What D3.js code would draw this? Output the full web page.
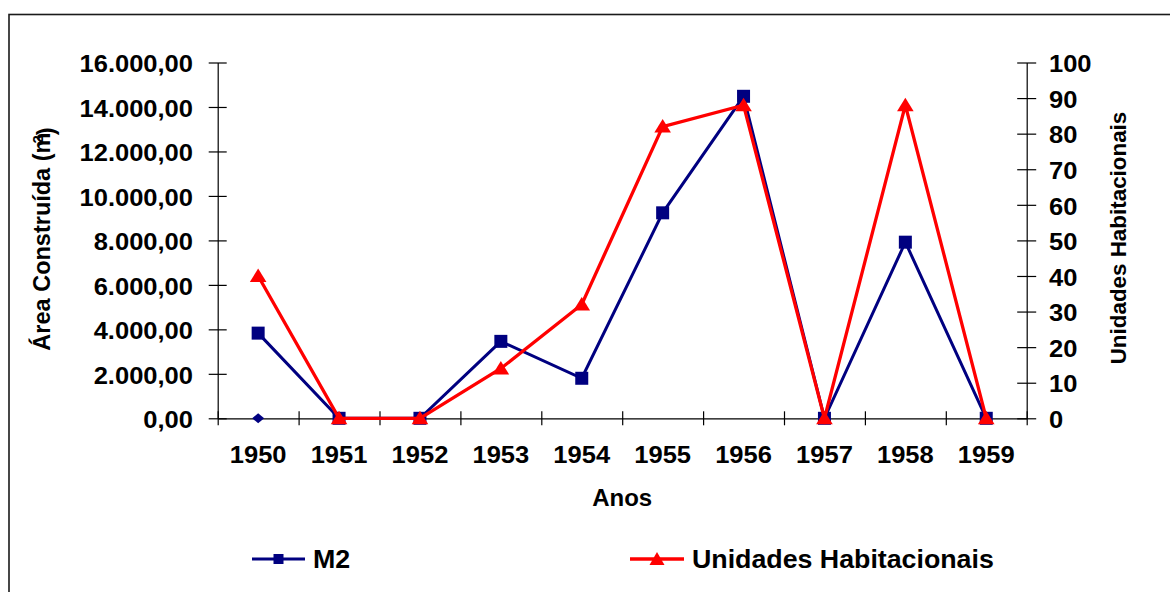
<!DOCTYPE html>
<html>
<head>
<meta charset="utf-8">
<script src="https://cdn.jsdelivr.net/npm/d3@7"></script>
<style>
  html, body { margin: 0; padding: 0; background: #fff; }
  svg { display: block; font-family: "Liberation Sans", Arial, sans-serif; font-weight: bold; }
</style>
</head>
<body>
<svg id="chart" width="1170" height="592"></svg>
<script>
const years = ["1950","1951","1952","1953","1954","1955","1956","1957","1958","1959"];
const m2Values = [3830, 0, 0, 3460, 1800, 9240, 14480, 0, 7920, 0];
const unidadesValues = [40, 0, 0, 14, 32, 82, 88, 0, 88, 0];
const hiddenSeries = [0]; // lone diamond marker at 1950
const leftTicks = [0, 2000, 4000, 6000, 8000, 10000, 12000, 14000, 16000];
const rightTicks = [0, 10, 20, 30, 40, 50, 60, 70, 80, 90, 100];

const svg = d3.select("#chart");
const X0 = 217.7, X1 = 1026.7, Y0 = 418.3, Y1 = 62.5;
const navy = "#000080", red = "#ff0000";
const SX = 1.11;

// outer border
svg.append("rect").attr("x", 9).attr("y", 14.5).attr("width", 1200).attr("height", 620)
  .attr("fill", "none").attr("stroke", "#1a1a1a").attr("stroke-width", 1.6);

const x = d3.scaleBand().domain(years).range([X0, X1]).padding(0);
const xEdges = d3.scaleLinear().domain([0, years.length]).range([X0, X1]);
const yL = d3.scaleLinear().domain([0, 16000]).range([Y0, Y1]);
const yR = d3.scaleLinear().domain([0, 100]).range([Y0, Y1]);

const fmt = d => d3.format(",.2f")(d).replace(/,/g, "#").replace(/\./g, ",").replace(/#/g, ".");

// left axis
const gL = svg.append("g").attr("transform", `translate(${X0},0)`)
  .call(d3.axisLeft(yL).tickValues(leftTicks).tickFormat(fmt).tickSize(9).tickSizeOuter(0));
gL.select(".domain").attr("stroke", "#000").attr("stroke-width", 1.2);
gL.selectAll(".tick line").attr("x1", 9).attr("stroke", "#000").attr("stroke-width", 1.2);
gL.selectAll(".tick text").attr("x", -24.7 / SX).attr("dy", "0.4em")
  .attr("transform", `scale(${SX},1)`).style("font-size", "23px").style("font-family", "Liberation Sans, Arial, sans-serif").style("font-weight", "bold").attr("fill", "#000");

// right axis
const gR = svg.append("g").attr("transform", `translate(${X1},0)`)
  .call(d3.axisRight(yR).tickValues(rightTicks).tickSize(9.5).tickSizeOuter(0));
gR.select(".domain").attr("stroke", "#000").attr("stroke-width", 1.2);
gR.selectAll(".tick line").attr("x1", -9.5).attr("stroke", "#000").attr("stroke-width", 1.2);
gR.selectAll(".tick text").attr("x", 22.3 / SX).attr("dy", "0.4em")
  .attr("transform", `scale(${SX},1)`).style("font-size", "23px").style("font-family", "Liberation Sans, Arial, sans-serif").style("font-weight", "bold").attr("fill", "#000");

// bottom axis: boundary ticks
const gB = svg.append("g").attr("transform", `translate(0,${Y0})`)
  .call(d3.axisBottom(xEdges).ticks(years.length).tickFormat("").tickSize(7).tickSizeOuter(0));
gB.select(".domain").attr("stroke", "#000").attr("stroke-width", 1.2);
gB.selectAll(".tick line").attr("y1", -7).attr("stroke", "#000").attr("stroke-width", 1.2);

// bottom axis labels
const gBL = svg.append("g").attr("transform", `translate(0,${Y0})`)
  .call(d3.axisBottom(x).tickSize(0));
gBL.select(".domain").remove();
gBL.selectAll(".tick text").attr("y", 45).attr("dy", 0)
  .attr("transform", `scale(${SX},1)`).style("font-size", "23px").style("font-family", "Liberation Sans, Arial, sans-serif").style("font-weight", "bold").attr("fill", "#000");

// axis titles
svg.append("text").attr("x", (X0 + X1) / 2).attr("y", 506).attr("text-anchor", "middle")
  .style("font-size", "24px").text("Anos");

const lt = svg.append("text").attr("transform", "translate(50,239) rotate(-90)")
  .attr("text-anchor", "middle").style("font-size", "23.5px");
lt.append("tspan").text("Área Construída (m");
lt.append("tspan").attr("dy", "-0.45em").style("font-size", "15px").attr("dx", "-11").text("2");
lt.append("tspan").attr("dy", "0.45em").text(")");

svg.append("text").attr("transform", "translate(1126,238) rotate(-90)")
  .attr("text-anchor", "middle").style("font-size", "22.4px").text("Unidades Habitacionais");

// series
const cx = (d, i) => x(years[i]) + x.bandwidth() / 2;

const lineM2 = d3.line().x((d, i) => cx(d, i)).y(d => yL(d));
svg.append("path").datum(m2Values).attr("d", lineM2)
  .attr("fill", "none").attr("stroke", navy).attr("stroke-width", 3).attr("stroke-linejoin", "miter");
svg.selectAll("rect.m2").data(m2Values).join("rect").attr("class", "m2")
  .attr("x", (d, i) => cx(d, i) - 6.5).attr("y", d => yL(d) - 6.5)
  .attr("width", 13).attr("height", 13).attr("fill", navy);

// hidden series diamond
svg.selectAll("path.dia").data(hiddenSeries).join("path").attr("class", "dia")
  .attr("transform", (d, i) => `translate(${cx(d, i)},${yL(d)})`)
  .attr("d", "M0,-5 L6,0 L0,5 L-6,0 Z").attr("fill", navy);

const lineU = d3.line().x((d, i) => cx(d, i)).y(d => yR(d));
svg.append("path").datum(unidadesValues).attr("d", lineU)
  .attr("fill", "none").attr("stroke", red).attr("stroke-width", 3.3).attr("stroke-linejoin", "miter");
const tri = "M0,-7.5 L8.3,6 L-8.3,6 Z";
svg.selectAll("path.u").data(unidadesValues).join("path").attr("class", "u")
  .attr("transform", (d, i) => `translate(${cx(d, i)},${yR(d)})`)
  .attr("d", tri).attr("fill", red);

// legend
const LY = 559;
const legM = svg.append("g");
legM.append("line").attr("x1", 252).attr("x2", 305).attr("y1", LY).attr("y2", LY).attr("stroke", navy).attr("stroke-width", 3);
legM.append("rect").attr("x", 278.5 - 5).attr("y", LY - 5).attr("width", 10).attr("height", 10).attr("fill", navy);
legM.append("text").attr("x", 313 / 1.05).attr("y", LY + 9).attr("transform", "scale(1.05,1)").style("font-size", "25.5px").text("M2");

const legU = svg.append("g");
legU.append("line").attr("x1", 630).attr("x2", 684).attr("y1", LY).attr("y2", LY).attr("stroke", red).attr("stroke-width", 3.3);
legU.append("path").attr("transform", `translate(657,${LY})`).attr("d", "M0,-7 L7.5,6 L-7.5,6 Z").attr("fill", red);
legU.append("text").attr("x", 692 / 1.05).attr("y", LY + 9).attr("transform", "scale(1.05,1)").style("font-size", "25.5px").text("Unidades Habitacionais");
</script>
</body>
</html>
